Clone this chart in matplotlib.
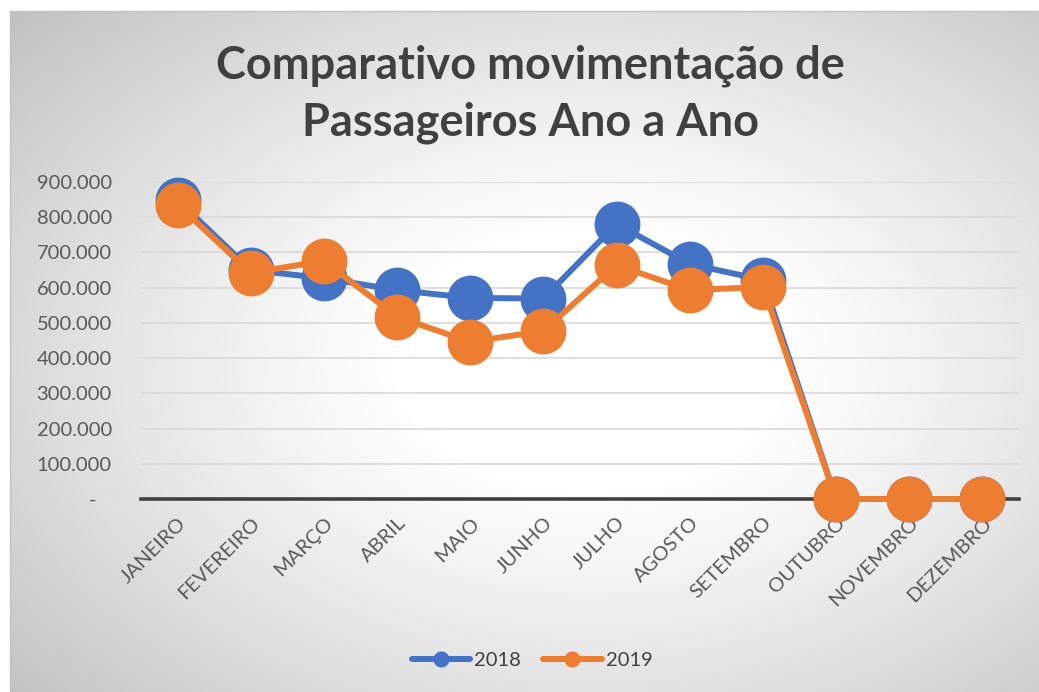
import matplotlib
matplotlib.use("Agg")
import matplotlib.pyplot as plt
import numpy as np
from matplotlib.ticker import FuncFormatter, MultipleLocator

months = ["JANEIRO", "FEVEREIRO", "MARÇO", "ABRIL", "MAIO", "JUNHO",
          "JULHO", "AGOSTO", "SETEMBRO", "OUTUBRO", "NOVEMBRO", "DEZEMBRO"]
pax_2018 = [849000, 650000, 627000, 593000, 571000, 569000,
            781000, 667000, 622000, 0, 0, 0]
pax_2019 = [836000, 642000, 676000, 517000, 446000, 477000,
            664000, 593000, 602000, 0, 0, 0]

BLUE = "#4472C4"
ORANGE = "#ED7D31"
TXT = "#595959"
TITLE = "#404040"
GRID = "#d9d9d9"

plt.rcParams["font.family"] = ["Lato", "DejaVu Sans"]

W, H = 1039, 692
fig = plt.figure(figsize=(W / 100, H / 100), dpi=100)

# chart-area background: radial grey -> white gradient (Excel style)
bg = fig.add_axes([0, 0, 1, 1], zorder=-10)
yy, xx = np.mgrid[0:H, 0:W]
r = np.sqrt(((xx - 590) / 720.0) ** 2 + ((yy - 360) / 480.0) ** 2)
shade = 1.0 - 0.25 * np.clip((r - 0.25) / 0.85, 0, 1) ** 1.2
img = np.dstack([shade] * 3)
img[:11, :, :] = 1.0
img[:, :10, :] = 1.0
bg.imshow(img, extent=[0, W, H, 0], aspect="auto", interpolation="bilinear")
bg.plot([10, 10], [11, H], color="#c2c2c2", lw=1)
bg.plot([10, W], [11, 11], color="#c2c2c2", lw=1)
bg.set_xlim(0, W)
bg.set_ylim(H, 0)
bg.axis("off")

ax = fig.add_axes([141 / W, 1 - 499 / H, (1019 - 141) / W, (499 - 182) / H])
ax.patch.set_alpha(0)
x = np.arange(len(months))
ax.plot(x, pax_2018, color=BLUE, lw=4.3, marker="o", ms=32, zorder=3,
        solid_capstyle="round", label="2018")
ax.plot(x, pax_2019, color=ORANGE, lw=4.3, marker="o", ms=32, zorder=4,
        solid_capstyle="round", label="2019")

ax.set_xlim(-0.5, len(months) - 0.5)
ax.set_ylim(0, 900000)
ax.yaxis.set_major_locator(MultipleLocator(100000))
ax.yaxis.set_major_formatter(FuncFormatter(
    lambda v, _: "-   " if v == 0 else f"{v:,.0f}".replace(",", ".")))
ax.grid(axis="y", color=GRID, lw=1.2, zorder=0)
ax.axhline(0, color="#404040", lw=2.6, zorder=2)
for s in ax.spines.values():
    s.set_visible(False)
ax.tick_params(axis="y", length=0, pad=21, labelsize=14.5, labelcolor=TXT)
ax.tick_params(axis="x", length=0, pad=11, labelsize=14.5, labelcolor=TXT)
ax.set_xticks(x)
ax.set_xticklabels(months, rotation=45, ha="right", va="top",
                   rotation_mode="anchor")
for ln in ax.lines:
    ln.set_clip_on(False)

fig.text(530 / W, 1 - 66 / H, "Comparativo movimentação de", ha="center",
         va="center", fontsize=32.5, fontweight="bold", color=TITLE)
fig.text(530 / W, 1 - 123 / H, "Passageiros Ano a Ano", ha="center",
         va="center", fontsize=32.5, fontweight="bold", color=TITLE)

h, l = ax.get_legend_handles_labels()
leg = fig.legend(h, l, loc="center", bbox_to_anchor=(532 / W, 1 - 660 / H),
                 ncol=2, frameon=False, fontsize=14.5, handlelength=2.9,
                 markerscale=0.33, columnspacing=1.1, handletextpad=0.2)
for t in leg.get_texts():
    t.set_color(TITLE)

fig.savefig("out.png", dpi=100)
